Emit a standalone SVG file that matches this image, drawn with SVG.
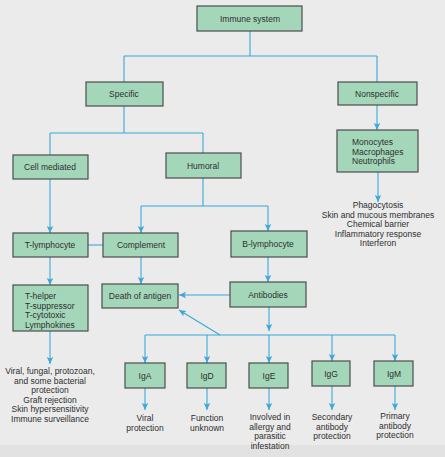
<svg xmlns="http://www.w3.org/2000/svg" width="445" height="457" viewBox="0 0 445 457">
<style>
.bg{fill:#ebebeb}
.box{fill:#a4d7ba;stroke:#4d4d4d;stroke-width:1.2}
.t{font-family:"Liberation Sans",Arial,sans-serif;font-size:8.5px;fill:#2e2e2e;text-anchor:middle}
.l{text-anchor:start}
.c{fill:none;stroke:#3ba7da;stroke-width:1.1}
.a{marker-end:url(#arr)}
</style>
<defs>
<marker id="arr" markerUnits="userSpaceOnUse" markerWidth="8" markerHeight="8" refX="7" refY="4" orient="auto">
<path d="M0,0.8 L7,4 L0,7.2 L1.5,4 Z" fill="#3ba7da"/>
</marker>
</defs>
<rect class="bg" x="0" y="0" width="445" height="457"/>
<rect x="0" y="445" width="445" height="12" fill="#e2e2e2"/>

<g id="connectors">
<path class="c" d="M250 31 V56 M124 56 H377 M124 56 V82 M377 56 V82"/>
<path class="c a" d="M377 105 V130"/>
<path class="c" d="M124 106 V133 M50 133 H203 M50 133 V155 M203 133 V153"/>
<path class="c a" d="M378 172 V202"/>
<path class="c a" d="M50 179 V233"/>
<path class="c" d="M203 178 V206 M141 206 H268"/>
<path class="c a" d="M141 206 V233"/>
<path class="c a" d="M268 206 V231"/>
<path class="c" d="M88 245 H103"/>
<path class="c a" d="M50 257 V285"/>
<path class="c a" d="M141 257 V284"/>
<path class="c a" d="M268 257 V282"/>
<path class="c a" d="M230 295 H179"/>
<path class="c a" d="M269 307 V331"/>
<path class="c" d="M145 335 H395"/>
<path class="c a" d="M220 335 L179 310"/>
<path class="c a" d="M145 335 V363"/>
<path class="c a" d="M207 335 V363"/>
<path class="c a" d="M269 335 V363"/>
<path class="c a" d="M332 335 V361"/>
<path class="c a" d="M395 335 V361"/>
<path class="c a" d="M50 331 V364"/>
<path class="c a" d="M145 388 V410"/>
<path class="c a" d="M207 388 V410"/>
<path class="c a" d="M269 388 V410"/>
<path class="c a" d="M332 386 V410"/>
<path class="c a" d="M395 386 V410"/>
</g>

<g id="immune-system"><rect class="box" x="197" y="6" width="105" height="25"/><text class="t" x="250" y="22">Immune system</text></g>
<g id="specific"><rect class="box" x="86" y="82" width="77" height="24"/><text class="t" x="124" y="97">Specific</text></g>
<g id="nonspecific"><rect class="box" x="338" y="82" width="79" height="23"/><text class="t" x="377" y="97">Nonspecific</text></g>
<g id="monocytes"><rect class="box" x="337" y="130" width="81" height="42"/>
<text class="t l" x="352" y="145">Monocytes</text><text class="t l" x="352" y="154.5">Macrophages</text><text class="t l" x="352" y="164">Neutrophils</text></g>
<g id="nonspecific-functions">
<text class="t" x="378" y="208">Phagocytosis</text>
<text class="t" x="378" y="217.5">Skin and mucous membranes</text>
<text class="t" x="378" y="227">Chemical barrier</text>
<text class="t" x="378" y="236.5">Inflammatory response</text>
<text class="t" x="378" y="246">Interferon</text>
</g>
<g id="cell-mediated"><rect class="box" x="13" y="155" width="75" height="24"/><text class="t" x="50" y="170">Cell mediated</text></g>
<g id="humoral"><rect class="box" x="166" y="153" width="75" height="25"/><text class="t" x="203" y="169">Humoral</text></g>
<g id="t-lymphocyte"><rect class="box" x="13" y="233" width="75" height="24"/><text class="t" x="50" y="248">T-lymphocyte</text></g>
<g id="complement"><rect class="box" x="103" y="233" width="75" height="24"/><text class="t" x="141" y="248">Complement</text></g>
<g id="b-lymphocyte"><rect class="box" x="231" y="231" width="76" height="26"/><text class="t" x="268" y="247">B-lymphocyte</text></g>
<g id="t-cells"><rect class="box" x="13" y="285" width="75" height="46"/>
<text class="t l" x="25" y="299">T-helper</text><text class="t l" x="25" y="308.5">T-suppressor</text><text class="t l" x="25" y="318">T-cytotoxic</text><text class="t l" x="25" y="327.5">Lymphokines</text></g>
<g id="death-of-antigen"><rect class="box" x="102" y="284" width="76" height="24"/><text class="t" x="140" y="299">Death of antigen</text></g>
<g id="antibodies"><rect class="box" x="230" y="282" width="76" height="25"/><text class="t" x="268" y="298">Antibodies</text></g>
<g id="cell-functions">
<text class="t" x="50" y="374">Viral, fungal, protozoan,</text>
<text class="t" x="50" y="383.5">and some bacterial</text>
<text class="t" x="50" y="393">protection</text>
<text class="t" x="50" y="402.5">Graft rejection</text>
<text class="t" x="50" y="412">Skin hypersensitivity</text>
<text class="t" x="50" y="421.5">Immune surveillance</text>
</g>
<g id="iga"><rect class="box" x="125" y="363" width="40" height="25"/><text class="t" x="145" y="378.5">IgA</text></g>
<g id="igd"><rect class="box" x="187" y="363" width="39" height="25"/><text class="t" x="207" y="378.5">IgD</text></g>
<g id="ige"><rect class="box" x="249" y="363" width="39" height="25"/><text class="t" x="269" y="378.5">IgE</text></g>
<g id="igg"><rect class="box" x="312" y="361" width="38" height="25"/><text class="t" x="331" y="376.5">IgG</text></g>
<g id="igm"><rect class="box" x="374" y="361" width="39" height="25"/><text class="t" x="394" y="376.5">IgM</text></g>
<g id="ig-functions">
<text class="t" x="145" y="421">Viral</text><text class="t" x="145" y="430.5">protection</text>
<text class="t" x="207" y="421">Function</text><text class="t" x="207" y="430.5">unknown</text>
<text class="t" x="270" y="420">Involved in</text><text class="t" x="270" y="429.5">allergy and</text><text class="t" x="270" y="439">parasitic</text><text class="t" x="270" y="448.5">infestation</text>
<text class="t" x="332" y="420">Secondary</text><text class="t" x="332" y="429.5">antibody</text><text class="t" x="332" y="439">protection</text>
<text class="t" x="395" y="419">Primary</text><text class="t" x="395" y="428.5">antibody</text><text class="t" x="395" y="438">protection</text>
</g>
</svg>
